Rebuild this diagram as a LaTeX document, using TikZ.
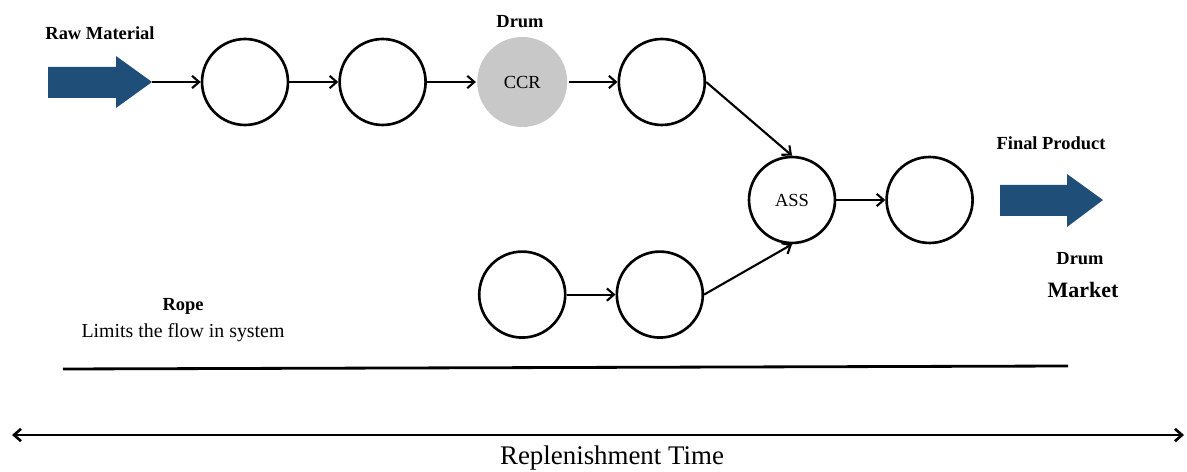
\documentclass[tikz,border=0pt]{standalone}
\usepackage{fontspec}
\setmainfont{Liberation Serif}
\usetikzlibrary{arrows.meta, positioning}
\definecolor{arrowblue}{RGB}{31,78,121}
\definecolor{ccrgray}{RGB}{200,200,200}

\begin{document}
\begin{tikzpicture}[x=0.02cm, y=-0.02cm, node distance=24.4mm and 9.8mm, >={Straight Barb[length=4pt,width=7pt]},
    station/.style={draw, circle, line width=1.5pt, minimum size=17.2mm, inner sep=0pt, font=\fontsize{10.5}{12}\selectfont},
    lbl/.style={font=\fontsize{10.5}{12}\selectfont\bfseries},
    flow/.style={->, line width=1.2pt}]
    \useasboundingbox (0,0) rectangle (1187,472);

    % Block arrows
    \fill[arrowblue] (48,67) -- (116,67) -- (116,56) -- (152,82) -- (116,108) -- (116,98) -- (48,98) -- cycle;
    \fill[arrowblue] (1000,185) -- (1067,185) -- (1067,174) -- (1103,200) -- (1067,227) -- (1067,216) -- (1000,216) -- cycle;
    \coordinate (rawtip) at (152,82);

    % Stations
    \node[station] (s1) at (245,82) {};
    \node[station, right=of s1] (s2) {};
    \node[station, right=of s2, draw=none, fill=ccrgray, minimum size=18mm] (ccr) {CCR};
    \node[station, right=of ccr] (s4) {};
    \node[station, below=of ccr] (b1) {};
    \node[station, right=of b1] (b2) {};
    \node[station] (ass) at (792,200) {ASS};
    \node[station, right=of ass] (fin) {};

    % Labels
    \node[lbl] (raw) at (100,33) {Raw Material};
    \node[lbl] (drumtop) at (520,22) {Drum};
    \node[lbl] (final) at (1051,143) {Final Product};
    \node[lbl] (drummkt) at (1080,259) {Drum};
    \node[font=\fontsize{12.5}{14}\selectfont\bfseries] (market) at (1083,290) {Market};
    \node[lbl] (rope) at (183,306) {Rope};
    \node[font=\fontsize{11.3}{13}\selectfont] (limits) at (183,333) {Limits the flow in system};
    \node[font=\fontsize{15.3}{18}\selectfont] (time) at (612,458) {Replenishment Time};

    % Flow
    \draw[flow] (rawtip) -- (s1);
    \draw[flow] (s1) -- (s2);
    \draw[flow] (s2) -- (ccr);
    \draw[flow] (ccr) -- (s4);
    \draw[flow] (s4.east) -- (ass.north);
    \draw[flow] (b1) -- (b2);
    \draw[flow] (b2.east) -- (ass.south);
    \draw[flow] (ass) -- (fin);

    % Rope and time lines
    \coordinate (ropeL) at (63,369);
    \coordinate (ropeR) at (1068,366);
    \coordinate (timeL) at (12,435);
    \coordinate (timeR) at (1184,435);
    \draw[line width=1.6pt] (ropeL) -- (ropeR);
    \draw[<->, line width=1.5pt] (timeL) -- (timeR);
\end{tikzpicture}
\end{document}
